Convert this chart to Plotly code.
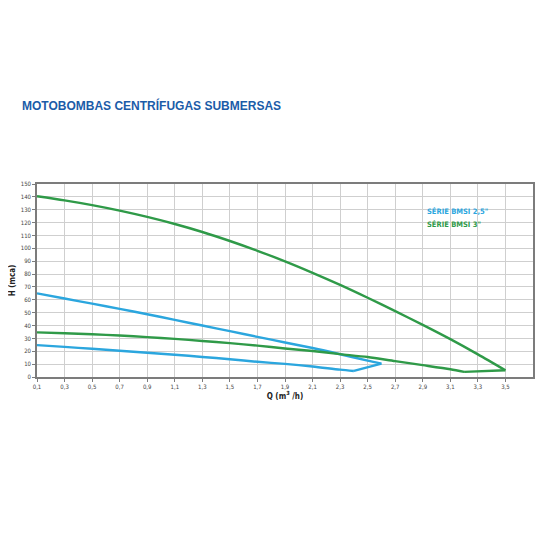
import plotly.graph_objects as go

# H x Q curves (Q in m3/h, H in mca)
series_names = ['SÉRIE BMSI 2,5"', 'SÉRIE BMSI 3"']
series_colors = ['#2ba6de', '#2f9a48']

blue_upper_q = [0.1, 0.3, 0.5, 0.7, 0.9, 1.1, 1.3, 1.5, 1.7, 1.9, 2.1, 2.3, 2.5, 2.6]
blue_upper_h = [65, 61, 57, 53, 48.8, 44.4, 40, 35.6, 31.2, 26.8, 22.5, 17.7, 12.7, 10.4]
blue_lower_q = [2.4, 2.3, 2.1, 1.9, 1.7, 1.5, 1.3, 1.1, 0.9, 0.7, 0.5, 0.3, 0.1]
blue_lower_h = [4.7, 5.7, 8.2, 10.2, 11.8, 13.8, 15.6, 17.3, 18.8, 20.4, 21.9, 23.4, 24.8]

green_upper_q = [0.1, 0.3, 0.5, 0.7, 0.9, 1.1, 1.3, 1.5, 1.7, 1.9, 2.1, 2.3, 2.5, 2.7, 2.9, 3.1, 3.3, 3.5]
green_upper_h = [140.5, 137.3, 133.6, 129.3, 124.4, 118.9, 112.7, 105.7, 98.1, 89.9, 81.0, 71.6, 61.6, 51.2, 40.5, 29.4, 17.6, 5.2]
green_lower_q = [3.2, 3.1, 2.9, 2.7, 2.5, 2.3, 2.1, 1.9, 1.7, 1.5, 1.3, 1.1, 0.9, 0.7, 0.5, 0.3, 0.1]
green_lower_h = [4, 6, 9.2, 12.3, 15.5, 17.8, 20.2, 22.2, 24.4, 26.3, 28, 29.6, 31, 32.2, 33.2, 34, 34.7]

x_ticks = [0.1, 0.3, 0.5, 0.7, 0.9, 1.1, 1.3, 1.5, 1.7, 1.9, 2.1, 2.3, 2.5, 2.7, 2.9, 3.1, 3.3, 3.5]
x_tick_labels = [str(v).replace('.', ',') for v in x_ticks]
y_ticks = list(range(0, 151, 10))

curves = [(blue_upper_q, blue_upper_h, blue_lower_q, blue_lower_h),
          (green_upper_q, green_upper_h, green_lower_q, green_lower_h)]

FONT = 'DejaVu Sans Condensed, Liberation Sans, sans-serif'

fig = go.Figure()
for (uq, uh, lq, lh), name, color in zip(curves, series_names, series_colors):
    line = dict(color=color, width=2.4)
    # smooth upper curve, straight link at the end, smooth lower curve
    fig.add_trace(go.Scatter(x=uq, y=uh, mode='lines', name=name, showlegend=False,
                             line=dict(shape='spline', smoothing=0.8, **line)))
    fig.add_trace(go.Scatter(x=[uq[-1], lq[0]], y=[uh[-1], lh[0]], mode='lines', name=name,
                             showlegend=False, line=line))
    fig.add_trace(go.Scatter(x=lq, y=lh, mode='lines', name=name, showlegend=False,
                             line=dict(shape='spline', smoothing=0.8, **line)))

# legend drawn as coloured text inside the plot
for i, (name, color) in enumerate(zip(series_names, series_colors)):
    fig.add_annotation(x=0.782, y=0.855 - i * 0.067, xref='paper', yref='paper',
                       xanchor='left', yanchor='middle', text='<b>' + name + '</b>',
                       showarrow=False, font=dict(size=7.5, color=color, family=FONT))

fig.add_annotation(xref='paper', yref='paper', x=(20 - 37) / 496, y=1 + (184 - 106) / 193,
                   xanchor='left', yanchor='middle', text='<b>MOTOBOMBAS CENTRÍFUGAS SUBMERSAS</b>',
                   showarrow=False, font=dict(size=12, color='#1b5ca8', family='Liberation Sans'))

axis_common = dict(showgrid=True, gridcolor='#cfcfcf', gridwidth=1, showline=True, linecolor='#7c7c7c',
                   linewidth=1.5, mirror=True, ticks='outside', ticklen=3, tickcolor='#7c7c7c',
                   tickfont=dict(size=6, color='#444444', family=FONT), zeroline=False,
                   automargin=False)

# the page body adds 8px on top/left, so the figure is 542 and margins shifted by 8
fig.update_layout(
    width=542, height=542,
    margin=dict(l=29, r=17, t=176, b=173),
    paper_bgcolor='white', plot_bgcolor='white',
    xaxis=dict(range=[0.1, 3.7], tickvals=x_ticks, ticktext=x_tick_labels,
               title=dict(text='<b>Q (m<sup>3</sup> /h)</b>', standoff=4,
                          font=dict(size=8, color='#222222', family=FONT)),
               **axis_common),
    yaxis=dict(range=[0, 150], tickvals=y_ticks,
               title=dict(text='<b>H (mca)</b>', standoff=6,
                          font=dict(size=8, color='#222222', family=FONT)),
               **axis_common),
)

fig.write_html('out.html')
